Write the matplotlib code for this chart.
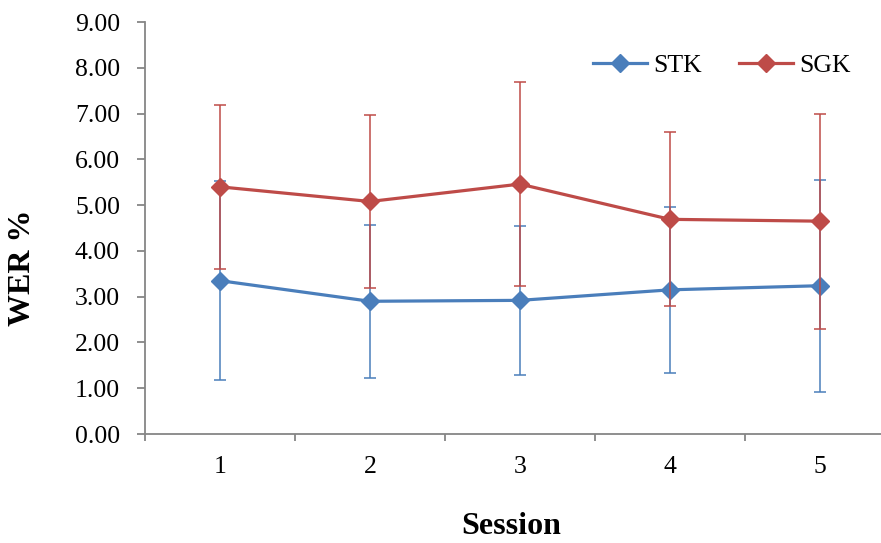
import matplotlib.pyplot as plt
import numpy as np

# data
sessions = [1, 2, 3, 4, 5]
stk_mean = [3.35, 2.90, 2.92, 3.15, 3.24]
stk_err = [2.17, 1.67, 1.62, 1.81, 2.32]
sgk_mean = [5.40, 5.08, 5.46, 4.69, 4.65]
sgk_err = [1.79, 1.88, 2.22, 1.90, 2.35]
yticks = np.arange(0, 9.01, 1.0)

blue = '#4A7EBB'
red = '#BE4B48'
grey = '#868686'

plt.rcParams['font.family'] = ['Liberation Serif', 'DejaVu Serif']

fig = plt.figure(figsize=(8.81, 5.43), dpi=100)
ax = fig.add_axes([0.1646, 0.2007, 0.8354, 0.7587])

for mean, err, color, label in [(stk_mean, stk_err, blue, 'STK'),
                                (sgk_mean, sgk_err, red, 'SGK')]:
    ax.errorbar(sessions, mean, yerr=err, fmt='none', ecolor=color,
                elinewidth=1.1, capsize=4.5, capthick=1.1)
    ax.plot(sessions, mean, color=color, lw=2.3, marker='D', ms=9,
            label=label)

ax.set_ylim(0, 9)
ax.set_xlim(0.5, 5.407)
ax.set_yticks(yticks)
ax.set_yticklabels(['%.2f' % v for v in yticks], fontsize=18.5)
ax.set_xticks(sessions)
ax.set_xticklabels([str(s) for s in sessions], fontsize=18.5)
ax.set_xticks([0.5, 1.5, 2.5, 3.5, 4.5], minor=True)
ax.tick_params(axis='x', which='major', length=0, pad=16)
ax.tick_params(axis='x', which='minor', length=5, color=grey, width=1.3)
ax.tick_params(axis='y', length=5.5, color=grey, width=1.3, pad=12.5)

for side in ['top', 'right']:
    ax.spines[side].set_visible(False)
for side in ['left', 'bottom']:
    ax.spines[side].set_color(grey)
    ax.spines[side].set_linewidth(1.3)

# y label sits lower than the axes centre in the original
fig.text(23 / 881, 1 - 268 / 543, 'WER %', rotation=90, ha='center',
         va='center', fontsize=23, fontweight='bold')
fig.text(0.5805, 1 - 534 / 543, 'Session', ha='center', va='baseline',
         fontsize=23, fontweight='bold')

fig.legend(loc='center left', bbox_to_anchor=(0.673, 0.880), ncol=2,
           frameon=False, fontsize=18.5, handlelength=2.1, borderpad=0,
           borderaxespad=0, columnspacing=1.45, handletextpad=0.25)

plt.savefig('out.png', dpi=100)
plt.close()
